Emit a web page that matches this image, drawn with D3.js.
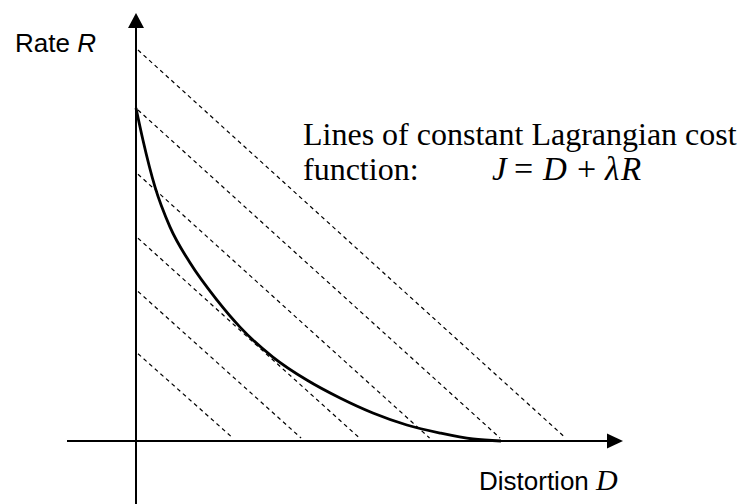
<!DOCTYPE html>
<html>
<head>
<meta charset="utf-8">
<script src="https://cdn.jsdelivr.net/npm/d3@7/dist/d3.min.js"></script>
<style>
  html, body { margin: 0; padding: 0; background: #fff; }
  svg { display: block; }
</style>
</head>
<body>
<svg id="chart" width="741" height="504"></svg>
<script>
// Operational rate-distortion curve R(D)
const distortion = [0, 0.19, 0.52, 0.93, 1.48, 2.22, 2.85, 3.75, 4.68, 5.59, 6.49, 7.42, 8.33, 9.23, 10];
const rate       = [10, 9.04, 7.63, 6.43, 5.35, 4.23, 3.42, 2.52, 1.83, 1.29, 0.84, 0.48, 0.24, 0.06, 0];

// Levels of the Lagrangian cost J = D + lambda * R
const costLevels = [2.68, 4.55, 6.15, 8.07, 10, 11.8];
const lambda = 1;

const svg = d3.select("#chart");

const x = d3.scaleLinear().domain([0, 10]).range([136, 501]);
const y = d3.scaleLinear().domain([0, 10]).range([441, 108]);

// Axes drawn as plain arrows through the origin
const xMin = x.invert(67), xMax = x.invert(623);
const yMin = y.invert(504), yMax = y.invert(13);

svg.append("line")
  .attr("x1", x(xMin)).attr("x2", x(xMax) - 10)
  .attr("y1", y(0)).attr("y2", y(0))
  .attr("stroke", "#000").attr("stroke-width", 2);
svg.append("line")
  .attr("x1", x(0)).attr("x2", x(0))
  .attr("y1", y(yMin)).attr("y2", y(yMax) + 10)
  .attr("stroke", "#000").attr("stroke-width", 2);

// arrowheads
svg.append("path")
  .attr("d", `M${x(xMax)},${y(0)} L${x(xMax) - 16},${y(0) - 7.5} L${x(xMax) - 16},${y(0) + 7.5} Z`)
  .attr("fill", "#000");
svg.append("path")
  .attr("d", `M${x(0)},${y(yMax)} L${x(0) - 8},${y(yMax) + 15} L${x(0) + 8},${y(yMax) + 15} Z`)
  .attr("fill", "#000");

// iso-cost lines
svg.append("g")
  .selectAll("line")
  .data(costLevels)
  .join("line")
  .attr("x1", x(0) + 2)
  .attr("y1", J => y(J / lambda) + 2)
  .attr("x2", J => x(J) - 1)
  .attr("y2", y(0) - 3)
  .attr("stroke", "#000")
  .attr("stroke-width", 1.2)
  .attr("stroke-dasharray", "4,3.5");

// R(D) curve
const pts = distortion.map((d, i) => [d, rate[i]]);
svg.append("path")
  .datum(pts)
  .attr("fill", "none")
  .attr("stroke", "#000")
  .attr("stroke-width", 2.8)
  .attr("d", d3.line().x(p => x(p[0])).y(p => y(p[1])).curve(d3.curveMonotoneX));

// axis titles
const rateLabel = svg.append("text")
  .attr("x", 15).attr("y", 52)
  .attr("font-family", "'Liberation Sans', Arial, sans-serif")
  .attr("font-size", 26);
rateLabel.append("tspan").text("Rate ");
rateLabel.append("tspan").attr("font-style", "italic").text("R");

const distLabel = svg.append("text")
  .attr("x", 479).attr("y", 490)
  .attr("font-family", "'Liberation Sans', Arial, sans-serif")
  .attr("font-size", 26);
distLabel.append("tspan").text("Distortion ");
distLabel.append("tspan")
  .attr("font-family", "'Liberation Serif', 'Times New Roman', serif")
  .attr("font-style", "italic")
  .attr("font-size", 30)
  .text("D");

// annotation
const serif = "'Liberation Serif', 'Times New Roman', serif";
svg.append("text")
  .attr("x", 303).attr("y", 145)
  .attr("font-family", serif).attr("font-size", 32)
  .text("Lines of constant Lagrangian cost");
svg.append("text")
  .attr("x", 303).attr("y", 180)
  .attr("font-family", serif).attr("font-size", 32)
  .text("function:");

// equation, each symbol placed on its own
const eqParts = [
  { s: "J", x: 492, italic: true },
  { s: "=", x: 514, italic: false },
  { s: "D", x: 543, italic: true },
  { s: "+", x: 577, italic: false },
  { s: "λ", x: 605, italic: true },
  { s: "R", x: 621, italic: true }
];
svg.append("g")
  .selectAll("text")
  .data(eqParts)
  .join("text")
  .attr("x", d => d.x)
  .attr("y", 180)
  .attr("font-family", serif)
  .attr("font-size", d => d.italic ? 33 : 34)
  .attr("font-style", d => d.italic ? "italic" : "normal")
  .text(d => d.s);
</script>
</body>
</html>
